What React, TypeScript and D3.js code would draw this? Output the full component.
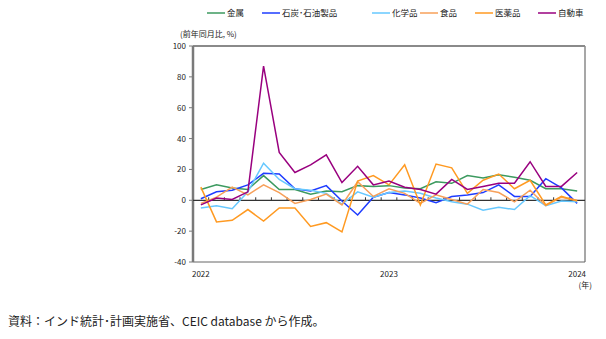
import React from "react";
import * as d3 from "d3";

const months = [
  "2022-01","2022-02","2022-03","2022-04","2022-05","2022-06","2022-07","2022-08","2022-09","2022-10","2022-11","2022-12",
  "2023-01","2023-02","2023-03","2023-04","2023-05","2023-06","2023-07","2023-08","2023-09","2023-10","2023-11","2023-12",
  "2024-01",
];
const metals = [7, 10, 8, 7, 16, 7, 7, 4, 6, 5.5, 9.5, 9, 9.5, 8, 7.5, 12, 11, 16, 14.5, 16.5, 15, 13, 7.5, 7.5, 6];
const coalPetro = [1, 5.5, 6.5, 10, 17.5, 17, 7.5, 6, 9.5, -0.5, -9.5, 2, 5, 3.5, 1.5, -1.5, 2.5, 3.5, 5, 10, 2.5, 2.5, 14, 8, -2];
const chemicals = [-5, -3.5, -5.5, 5.5, 24, 13.5, 7.5, 6.5, 4.5, -2.5, 5.5, 2, 5, 6, 4.5, 1.5, -1, -2.5, -6.5, -4.5, -6, 3, -3.5, -0.5, -1];
const food = [-2, 2, 8.5, 3.5, 10, 5, -2, 0.5, 4, -3, 12, 2.5, 7.5, 4.5, -2, 3.5, 0.5, -2.5, 7, 5, -1, 6.5, -3.5, 2, 0];
const pharma = [8.5, -14, -13, -6, -13.5, -5, -5, -17, -14.5, -20.5, 12.5, 16, 10, 23, -3, 23.5, 21, 4.5, 13, 17, 7.5, 13, -3, 2.5, -0.5];
const autos = [-3, 1.5, 0.5, 5.5, 87, 31, 18, 23, 29.5, 11.5, 22, 10, 12.5, 8.5, 7, 4, 13.5, 7, 9, 11, 11, 25, 9, 9, 18];

const seriesNames = ["金属", "石炭･石油製品", "化学品", "食品", "医薬品", "自動車"];
const seriesColors = ["#3c9a5f", "#1e3cff", "#66c8ff", "#f7a05a", "#ff9a22", "#99007f"];
const seriesValues = [metals, coalPetro, chemicals, food, pharma, autos];
const yTicks = [100, 80, 60, 40, 20, 0, -20, -40];
const xLabels = [
  { idx: 0, text: "2022" },
  { idx: 12, text: "2023" },
  { idx: 24, text: "2024" },
];
const legendX = [207, 262, 372, 420, 475, 538];

export default function App() {
  const left = 193, right = 585, top = 46, bottom = 262;
  const x = d3.scaleBand<string>().domain(months).range([left, right]).padding(0);
  const y = d3.scaleLinear().domain([-40, 100]).range([bottom, top]);
  const cx = (m: string) => (x(m) as number) + x.bandwidth() / 2;
  const line = d3
    .line<number>()
    .x((_, i) => cx(months[i]))
    .y((v) => y(v));
  const font = "'Noto Sans CJK JP', 'Noto Sans', sans-serif";
  const bw = x.bandwidth();

  return (
    <svg
      width={606}
      height={339}
      style={{ position: "absolute", left: 0, top: 0, background: "#fff" }}
      fontFamily={font}
    >
      {/* legend */}
      {seriesNames.map((n, i) => (
        <g key={n}>
          <line x1={legendX[i]} x2={legendX[i] + 18} y1={13} y2={13} stroke={seriesColors[i]} strokeWidth={1.5} />
          <text x={legendX[i] + 20} y={16} fontSize={8.5} fill="#222">
            {n}
          </text>
        </g>
      ))}
      <text x={180} y={37} fontSize={8} fill="#222">
        (前年同月比, %)
      </text>

      {/* frame */}
      <line x1={left} x2={right} y1={top} y2={top} stroke="#8a8a8a" strokeWidth={2} />
      <line x1={right} x2={right} y1={top} y2={bottom} stroke="#8a8a8a" strokeWidth={1.5} />
      <line x1={left} x2={right} y1={bottom} y2={bottom} stroke="#666" strokeWidth={1} />
      <line x1={left} x2={left} y1={top} y2={bottom} stroke="#7a7a7a" strokeWidth={2.5} />

      {/* y ticks */}
      {yTicks.map((t) => (
        <g key={t}>
          <line x1={left - 4} x2={left} y1={y(t)} y2={y(t)} stroke="#7a7a7a" strokeWidth={1} />
          <text x={186} y={y(t) + 3} fontSize={8} textAnchor="end" fill="#222">
            {t}
          </text>
        </g>
      ))}

      {/* zero line with month ticks */}
      <line x1={left} x2={right} y1={y(0)} y2={y(0)} stroke="#333" strokeWidth={1.2} />
      {months.map((m, i) =>
        i === 0 ? null : (
          <line key={m} x1={x(m) as number} x2={x(m) as number} y1={y(0) - 3} y2={y(0)} stroke="#333" strokeWidth={1} />
        )
      )}

      {/* series */}
      {seriesValues.map((vals, i) => (
        <path key={seriesNames[i]} d={line(vals) || ""} fill="none" stroke={seriesColors[i]} strokeWidth={1.5} strokeLinejoin="miter" />
      ))}

      {/* x labels */}
      {xLabels.map((l) => (
        <text key={l.text} x={cx(months[l.idx])} y={277} fontSize={8} textAnchor="middle" fill="#222">
          {l.text}
        </text>
      ))}
      <text x={592} y={288} fontSize={8} textAnchor="end" fill="#222">
        (年)
      </text>

      {/* source */}
      <text x={8} y={326} fontSize={12} fill="#222">
        資料：インド統計･計画実施省、CEIC database から作成。
      </text>
    </svg>
  );
}
